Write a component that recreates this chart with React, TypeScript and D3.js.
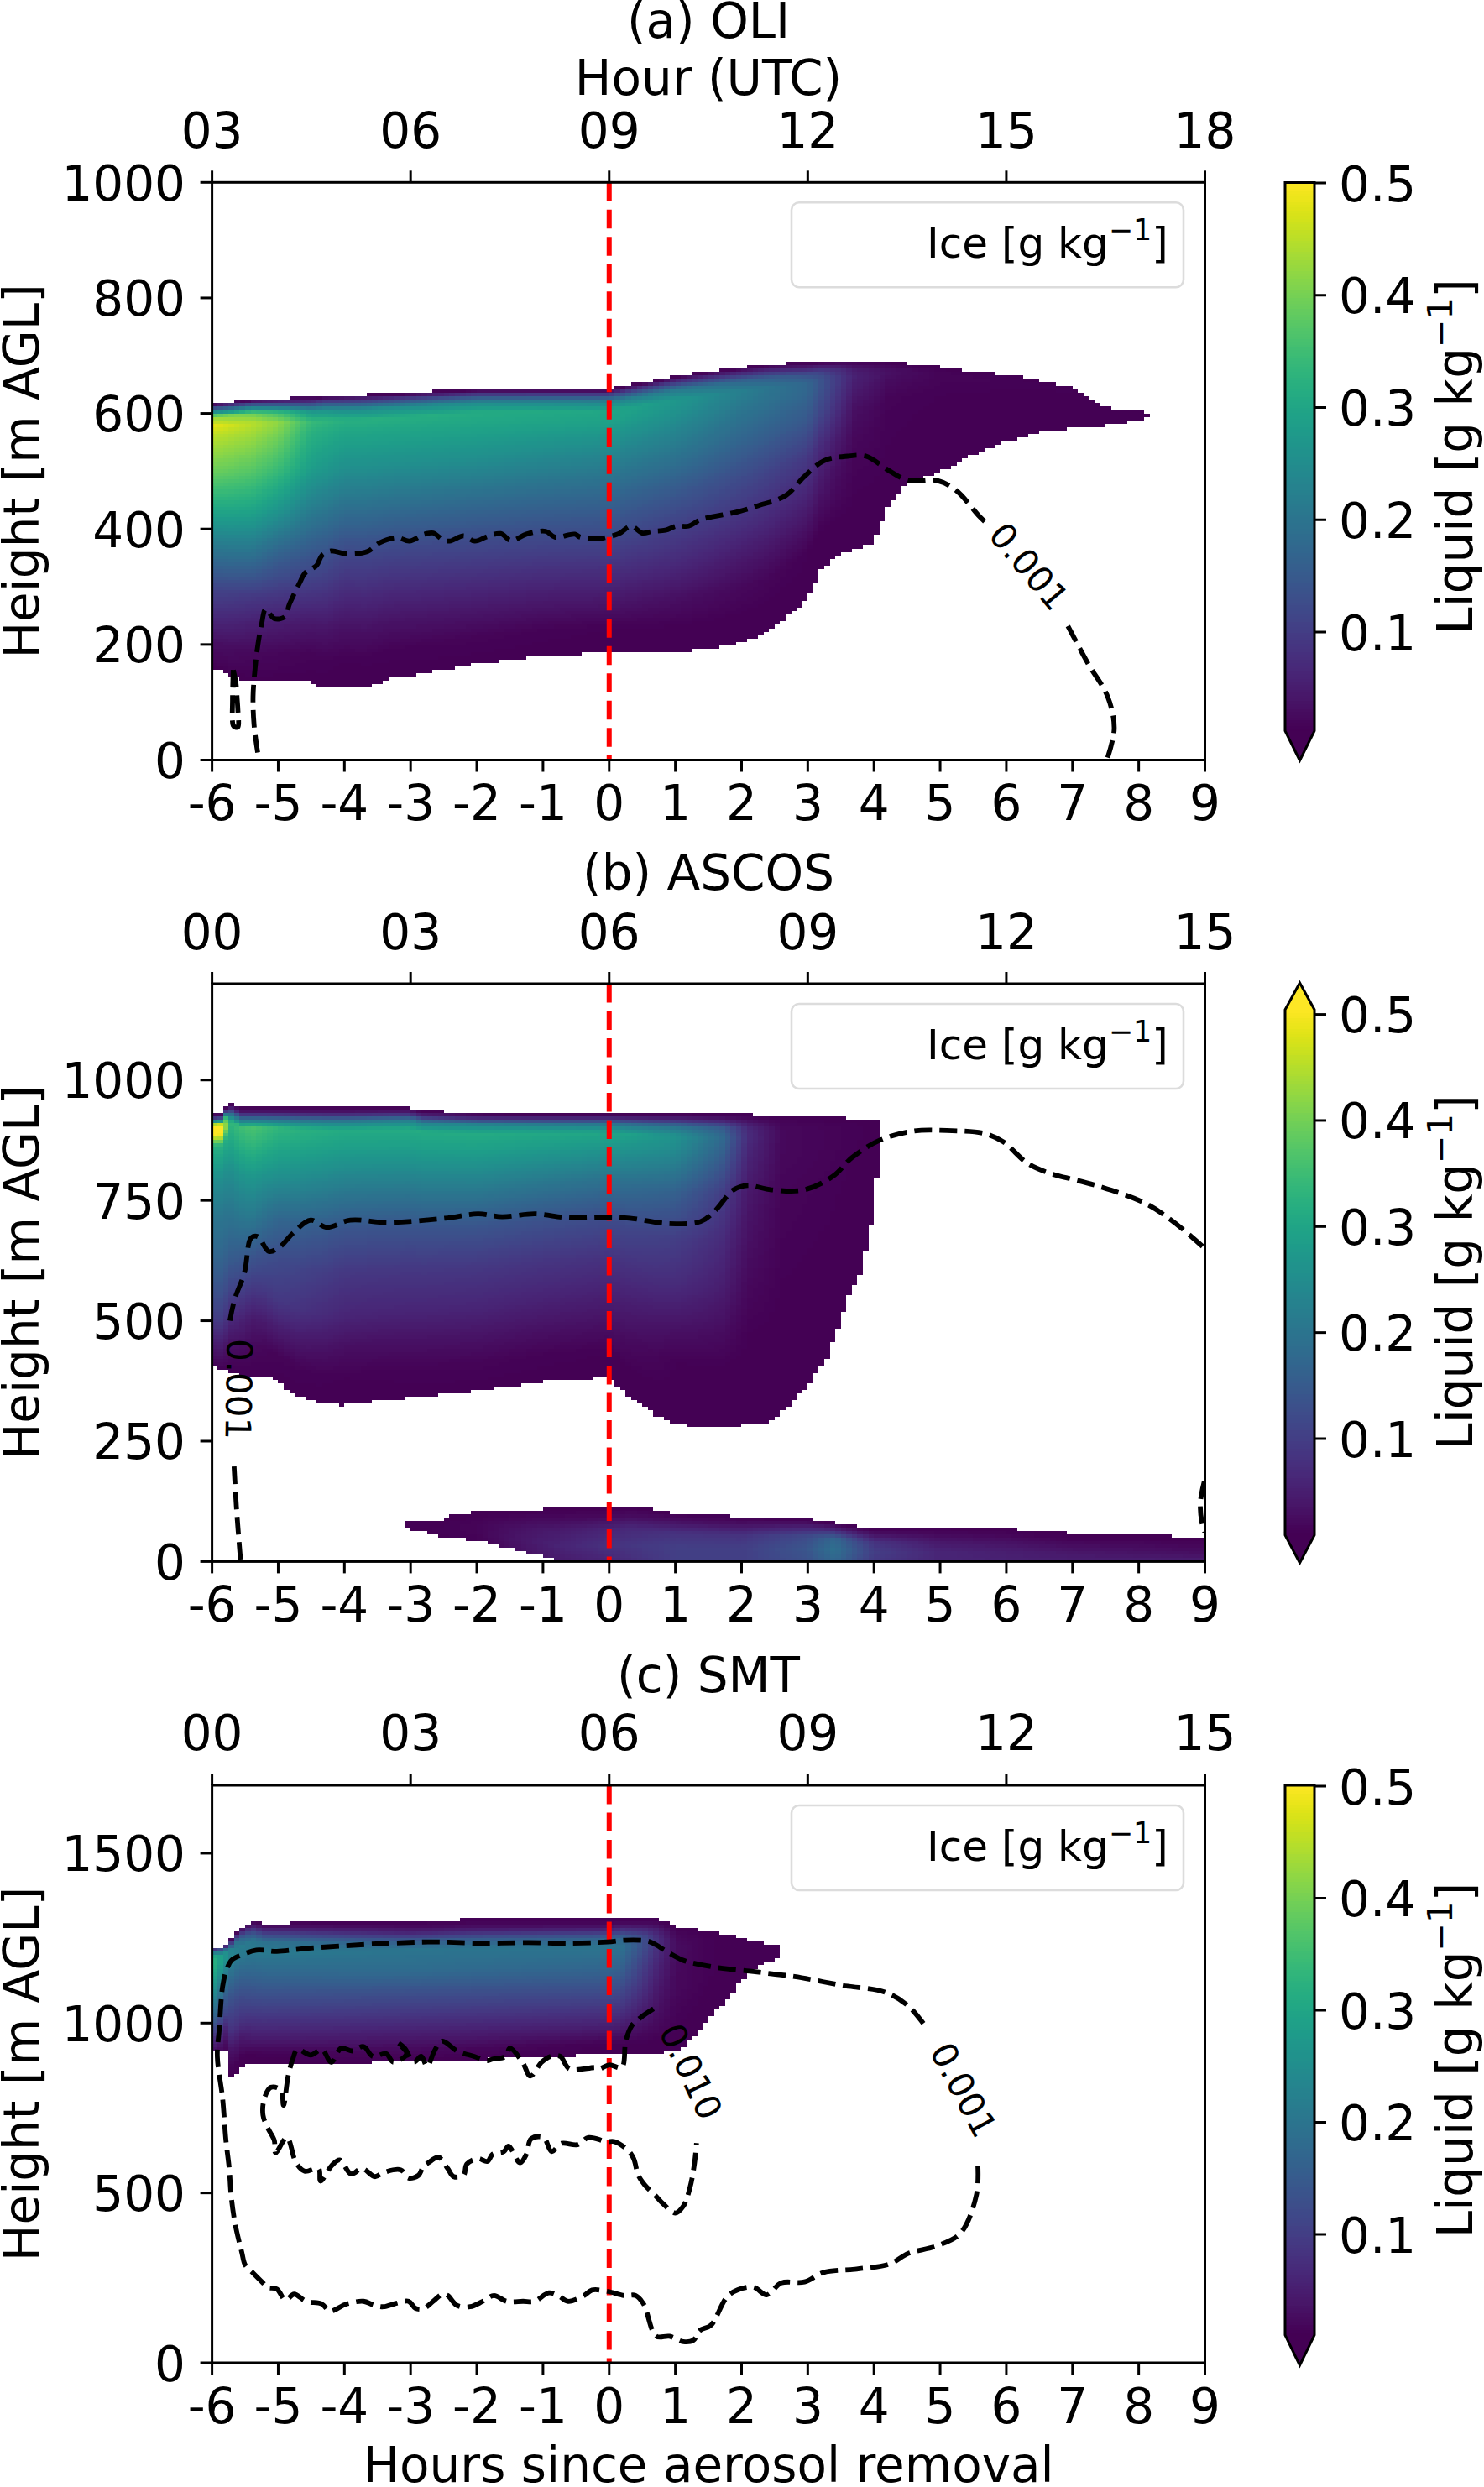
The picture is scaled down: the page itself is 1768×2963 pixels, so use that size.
import React from "react";
import * as d3 from "d3";

const hoursSinceRemoval = d3.range(-6, 10);
const zLevelsOli = [0, 0.1, 0.2, 0.3, 0.45, 0.6, 0.75, 0.88, 0.92, 0.955, 0.98, 1];
const zLevelsAscos = [0, 0.1, 0.2, 0.3, 0.45, 0.6, 0.75, 0.88, 0.93, 0.96, 0.985, 1];

const oliBoundaryTimes = [-6, -5.7, -5.4, -4.5, -4.3, -3.7, -3.3, -3, -2, -1, 0, 1, 1.5, 2, 2.4, 2.7, 3, 3.2, 3.5, 4, 4.2, 4.5, 5, 5.5, 6, 6.5, 7, 7.3, 7.5, 8, 8.15];
const oliTop = [615, 618, 622, 625, 628, 630, 632, 634, 640, 640, 640, 662, 670, 677, 682, 684, 685, 688, 690, 690, 688, 684, 678, 668, 665, 654, 642, 620, 607, 602, 595];
const oliBase = [160, 146, 136, 136, 124, 124, 141, 146, 166, 180, 185, 186, 192, 203, 222, 250, 277, 328, 358, 375, 435, 477, 500, 528, 551, 567, 574, 577, 579, 588, 593];
const oliValueTimes = [-6, -5.4, -5, -4.5, -4, -2, 0, 1, 2, 3, 3.4, 3.7, 4.2, 5, 8.2];
const oliLiquid = [
  [0.01, 0.03, 0.07, 0.11, 0.2, 0.3, 0.39, 0.45, 0.48, 0.42, 0.18, 0.02],
  [0.01, 0.02, 0.05, 0.09, 0.19, 0.29, 0.37, 0.43, 0.45, 0.39, 0.18, 0.02],
  [0.01, 0.018, 0.045, 0.085, 0.16, 0.26, 0.34, 0.4, 0.42, 0.35, 0.16, 0.02],
  [0.01, 0.015, 0.04, 0.08, 0.14, 0.21, 0.28, 0.32, 0.34, 0.27, 0.13, 0.02],
  [0.01, 0.012, 0.03, 0.06, 0.11, 0.18, 0.25, 0.3, 0.32, 0.25, 0.12, 0.015],
  [0.01, 0.015, 0.04, 0.07, 0.12, 0.18, 0.25, 0.3, 0.31, 0.24, 0.12, 0.015],
  [0.01, 0.012, 0.04, 0.07, 0.12, 0.17, 0.23, 0.29, 0.3, 0.23, 0.12, 0.015],
  [0.01, 0.012, 0.03, 0.06, 0.1, 0.15, 0.21, 0.26, 0.27, 0.21, 0.1, 0.015],
  [0.01, 0.011, 0.02, 0.04, 0.08, 0.12, 0.17, 0.21, 0.22, 0.17, 0.08, 0.015],
  [0.01, 0.011, 0.012, 0.03, 0.06, 0.09, 0.14, 0.17, 0.17, 0.13, 0.06, 0.015],
  [0.01, 0.01, 0.012, 0.02, 0.03, 0.05, 0.08, 0.1, 0.1, 0.08, 0.04, 0.012],
  [0.01, 0.01, 0.011, 0.012, 0.015, 0.02, 0.03, 0.05, 0.055, 0.045, 0.025, 0.012],
  [0.01, 0.01, 0.01, 0.011, 0.012, 0.013, 0.015, 0.025, 0.03, 0.028, 0.018, 0.012],
  [0.01, 0.01, 0.01, 0.01, 0.011, 0.011, 0.012, 0.014, 0.015, 0.015, 0.013, 0.011],
  [0.01, 0.01, 0.01, 0.01, 0.01, 0.01, 0.01, 0.01, 0.01, 0.01, 0.01, 0.01],
];

const ascosBoundaryTimes = [-6, -5.85, -5.75, -5.55, -5.2, -5, -4.7, -4.3, -4, -3.5, -3, -2.8, -2, -1, 0, 0.3, 0.7, 1, 1.5, 2, 2.4, 2.7, 3, 3.3, 3.6, 3.8, 3.95, 4.03, 4.08];
const ascosTop = [924, 926, 952, 939, 939, 939, 939, 939, 939, 939, 939, 933, 928, 927, 927, 927, 927, 927, 926, 925, 923, 922, 920, 918, 917, 917, 917, 917, 917];
const ascosBase = [405, 400, 396, 388, 388, 372, 344, 327, 325, 335, 340, 343, 355, 375, 384, 344, 305, 286, 279, 283, 288, 321, 366, 422, 544, 600, 689, 778, 878];
const ascosValueTimes = [-6, -5.83, -5.75, -5.4, -5, -4, -2, 0, 1, 1.7, 2.1, 2.6, 4.1];
const ascosLiquid = [
  [0.012, 0.05, 0.1, 0.13, 0.17, 0.2, 0.25, 0.32, 0.52, 0.52, 0.16, 0.02],
  [0.012, 0.05, 0.1, 0.13, 0.17, 0.2, 0.25, 0.32, 0.52, 0.5, 0.16, 0.02],
  [0.01, 0.03, 0.07, 0.11, 0.16, 0.2, 0.25, 0.31, 0.33, 0.2, 0.05, 0.015],
  [0.01, 0.02, 0.04, 0.08, 0.14, 0.21, 0.27, 0.34, 0.36, 0.2, 0.05, 0.015],
  [0.01, 0.015, 0.05, 0.09, 0.12, 0.17, 0.25, 0.31, 0.33, 0.2, 0.05, 0.015],
  [0.01, 0.012, 0.03, 0.06, 0.09, 0.14, 0.22, 0.29, 0.31, 0.2, 0.05, 0.015],
  [0.01, 0.015, 0.035, 0.06, 0.09, 0.14, 0.22, 0.29, 0.31, 0.24, 0.07, 0.015],
  [0.01, 0.012, 0.03, 0.05, 0.08, 0.12, 0.19, 0.27, 0.3, 0.22, 0.07, 0.015],
  [0.01, 0.01, 0.012, 0.03, 0.07, 0.1, 0.16, 0.24, 0.26, 0.2, 0.06, 0.015],
  [0.01, 0.01, 0.012, 0.025, 0.05, 0.07, 0.1, 0.16, 0.18, 0.15, 0.05, 0.012],
  [0.01, 0.01, 0.01, 0.012, 0.02, 0.03, 0.04, 0.06, 0.07, 0.065, 0.03, 0.012],
  [0.01, 0.01, 0.01, 0.01, 0.012, 0.014, 0.016, 0.02, 0.02, 0.02, 0.015, 0.011],
  [0.01, 0.01, 0.01, 0.01, 0.01, 0.01, 0.01, 0.01, 0.01, 0.01, 0.01, 0.01],
];

const ascosLowBoundaryTimes = [-3.05, -2.5, -2.4, -2, -1.2, -1, -0.8, 0, 0.3, 1, 2, 3, 4, 5, 6, 6.5, 7, 8, 8.5, 9];
const ascosLowTop = [79, 82, 94, 99, 104, 105, 106, 110, 112, 97, 90, 85, 66, 66, 65, 60, 55, 55, 49, 49];
const ascosLowBase = [68, 50, 48, 43, 16, 10, 0, 0, 0, 0, 0, 0, 0, 0, 0, 0, 0, 0, 0, 0];
const zLevelsLow = [0, 0.3, 0.6, 0.85, 1];
const ascosLowValueTimes = [-3.05, -2, -1, 0, 1, 2, 3, 3.4, 4, 5, 7, 9];
const ascosLowLiquid = [
  [0.01, 0.01, 0.01, 0.01, 0.01],
  [0.012, 0.015, 0.015, 0.012, 0.01],
  [0.04, 0.05, 0.04, 0.02, 0.01],
  [0.06, 0.08, 0.06, 0.02, 0.01],
  [0.1, 0.1, 0.08, 0.03, 0.012],
  [0.1, 0.1, 0.08, 0.03, 0.012],
  [0.13, 0.14, 0.12, 0.05, 0.012],
  [0.17, 0.19, 0.17, 0.06, 0.012],
  [0.09, 0.1, 0.08, 0.03, 0.012],
  [0.06, 0.06, 0.04, 0.02, 0.012],
  [0.05, 0.04, 0.025, 0.012, 0.011],
  [0.05, 0.03, 0.02, 0.012, 0.011],
];

const zLevelsSmt = [0, 0.08, 0.2, 0.35, 0.5, 0.65, 0.8, 0.87, 0.93, 0.97, 1];
const smtBoundaryTimes = [-6, -5.81, -5.73, -5.72, -5.64, -5.6, -5.55, -5.5, -5.38, -5.21, -3.77, -2.07, 0.7, 0.87, 1.04, 1.1, 1.44, 1.55, 1.78, 1.95, 2.12, 2.29, 2.52];
const smtTop = [1211, 1223, 1240, 1241, 1262, 1270, 1277, 1285, 1297, 1289, 1293, 1301, 1301, 1293, 1277, 1276, 1268, 1264, 1255, 1248, 1240, 1232, 1223];
const smtBase = [918, 918, 918, 840, 840, 862, 870, 877, 877, 878, 884, 893, 914, 915, 918, 926, 992, 1025, 1066, 1116, 1149, 1174, 1186];
const smtValueTimes = [-6, -5.7, -5.4, -3, 0, 0.2, 0.5, 0.75, 1, 1.5, 2.55];
const smtLiquid = [
  [0.03, 0.06, 0.12, 0.18, 0.23, 0.28, 0.32, 0.33, 0.33, 0.25, 0.1],
  [0.01, 0.012, 0.03, 0.08, 0.11, 0.15, 0.2, 0.23, 0.22, 0.12, 0.02],
  [0.01, 0.012, 0.05, 0.09, 0.13, 0.17, 0.21, 0.2, 0.12, 0.05, 0.015],
  [0.01, 0.02, 0.05, 0.09, 0.13, 0.18, 0.2, 0.14, 0.05, 0.02, 0.012],
  [0.01, 0.012, 0.05, 0.09, 0.13, 0.17, 0.2, 0.16, 0.06, 0.02, 0.012],
  [0.01, 0.012, 0.045, 0.085, 0.12, 0.16, 0.19, 0.17, 0.08, 0.03, 0.012],
  [0.01, 0.012, 0.03, 0.055, 0.08, 0.1, 0.13, 0.13, 0.07, 0.03, 0.012],
  [0.01, 0.011, 0.02, 0.03, 0.04, 0.055, 0.07, 0.07, 0.05, 0.025, 0.012],
  [0.01, 0.01, 0.012, 0.015, 0.02, 0.02, 0.025, 0.025, 0.02, 0.015, 0.011],
  [0.01, 0.01, 0.01, 0.011, 0.012, 0.012, 0.012, 0.012, 0.012, 0.011, 0.01],
  [0.01, 0.01, 0.01, 0.01, 0.01, 0.01, 0.01, 0.01, 0.01, 0.01, 0.01],
];

type Pt = [number, number];
const oliIce001A: Pt[] = [[-5.31, 13], [-5.365, 61], [-5.38, 110], [-5.35, 158], [-5.31, 197], [-5.25, 236], [-5.19, 261], [-5.06, 245], [-4.9, 248], [-4.83, 270], [-4.67, 308], [-4.6, 323], [-4.42, 337], [-4.34, 354], [-4.2, 362], [-3.97, 357], [-3.65, 361], [-3.47, 376], [-3.2, 385], [-3.02, 379], [-2.79, 391], [-2.66, 393], [-2.52, 382], [-2.41, 379], [-2.2, 388], [-2.03, 379], [-1.84, 387], [-1.64, 392], [-1.48, 380], [-1.25, 391], [-0.96, 396], [-0.82, 386], [-0.52, 391], [-0.44, 386], [-0.16, 383], [-0.03, 386], [0.15, 392], [0.33, 405], [0.5, 393], [0.66, 396], [0.85, 398], [1.02, 405], [1.2, 405], [1.38, 416], [1.95, 430], [2.24, 440], [2.67, 458], [2.95, 491], [3.24, 518], [3.6, 526], [3.88, 526], [4.24, 500], [4.52, 484], [4.95, 484], [5.24, 467], [5.6, 421], [5.75, 405]];
const oliIce001B: Pt[] = [[6.93, 232], [7.24, 166], [7.53, 110], [7.63, 55], [7.53, 4]];
const oliIce001C: Pt[] = [[-5.68, 156], [-5.69, 105], [-5.68, 60], [-5.65, 57], [-5.61, 57], [-5.61, 88], [-5.62, 105], [-5.64, 134], [-5.68, 156]];

const ascosIce001A: Pt[] = [[-5.57, 4], [-5.63, 110], [-5.67, 205]];
const ascosIce001B: Pt[] = [[-5.73, 500], [-5.66, 544], [-5.51, 600], [-5.41, 672], [-5.31, 675], [-5.14, 644], [-4.98, 653], [-4.77, 683], [-4.51, 709], [-4.27, 694], [-3.91, 709], [-3.34, 704], [-2.48, 713], [-1.98, 722], [-1.62, 716], [-1.12, 722], [-0.62, 714], [-0.04, 715], [0.31, 713], [0.88, 702], [1.38, 706], [1.59, 727], [1.88, 772], [2.09, 781], [2.45, 772], [2.95, 772], [3.38, 800], [3.67, 839], [4.09, 875], [4.6, 894], [5.1, 895], [5.67, 889], [5.95, 872], [6.31, 828], [6.6, 809], [7.38, 780], [8.1, 744], [8.53, 705], [9, 650]];
const ascosIce001C: Pt[] = [[8.99, 166], [8.93, 121], [8.96, 77], [9, 60]];

const smtIce001: Pt[] = [[5.57, 580], [5.55, 496], [5.31, 382], [4.95, 344], [4.52, 322], [4.24, 291], [3.74, 276], [3.24, 266], [2.95, 238], [2.6, 235], [2.38, 200], [2.17, 223], [1.81, 200], [1.54, 111], [1.37, 95], [1.27, 66], [1.12, 62], [0.91, 78], [0.71, 78], [0.52, 173], [0.4, 198], [0.23, 198], [-0.02, 210], [-0.26, 214], [-0.38, 198], [-0.62, 181], [-0.77, 198], [-0.91, 206], [-1.13, 181], [-1.3, 181], [-1.55, 181], [-1.74, 198], [-1.91, 181], [-2.1, 165], [-2.3, 169], [-2.44, 198], [-2.52, 202], [-2.66, 181], [-2.81, 159], [-2.93, 161], [-3.03, 181], [-3.22, 175], [-3.41, 165], [-3.56, 170], [-3.71, 181], [-3.97, 173], [-4.22, 152], [-4.34, 173], [-4.58, 181], [-4.76, 202], [-4.89, 185], [-5.02, 217], [-5.16, 222], [-5.23, 235], [-5.4, 268], [-5.5, 288], [-5.55, 325], [-5.65, 408], [-5.71, 490], [-5.74, 572], [-5.79, 655], [-5.84, 778], [-5.92, 902], [-5.89, 984], [-5.84, 1108], [-5.78, 1157], [-5.7, 1186], [-5.53, 1202], [-5.33, 1215], [-5.02, 1211], [-4.62, 1219], [-4.05, 1227], [-3.32, 1235], [-2.64, 1239], [-1.96, 1235], [-1.22, 1237], [-0.6, 1235], [-0.03, 1239], [0.25, 1244], [0.59, 1241], [0.7, 1231], [0.9, 1207], [1.1, 1186], [1.33, 1174], [1.72, 1161], [2.12, 1153], [2.46, 1145], [2.8, 1137], [3.52, 1111], [4.17, 1091], [4.52, 1050], [4.81, 982]];
const smtIce010: Pt[] = [[0.67, 1042], [0.48, 1017], [0.34, 992], [0.25, 947], [0.19, 869], [0, 877], [-0.15, 865], [-0.2, 869], [-0.6, 865], [-0.74, 902], [-0.88, 902], [-1.02, 885], [-1.19, 844], [-1.31, 885], [-1.5, 926], [-1.56, 902], [-1.76, 894], [-1.85, 889], [-2.04, 902], [-2.19, 910], [-2.3, 918], [-2.53, 947], [-2.64, 918], [-2.75, 873], [-2.84, 902], [-2.95, 885], [-3.09, 926], [-3.2, 943], [-3.06, 910], [-3.26, 885], [-3.37, 910], [-3.57, 902], [-3.71, 931], [-3.88, 918], [-4.05, 926], [-4.2, 885], [-4.34, 922], [-4.51, 906], [-4.71, 922], [-4.78, 894], [-4.85, 844], [-4.92, 758], [-4.96, 803], [-5.11, 811], [-5.21, 778], [-5.23, 729], [-5.16, 692], [-5.06, 655], [-5.04, 618], [-4.87, 663], [-4.73, 589], [-4.6, 564], [-4.39, 572], [-4.36, 535], [-4.19, 581], [-4.07, 597], [-3.9, 556], [-3.73, 572], [-3.54, 548], [-3.41, 560], [-3.15, 568], [-3.03, 544], [-2.88, 552], [-2.81, 577], [-2.73, 589], [-2.58, 605], [-2.44, 572], [-2.35, 548], [-2.2, 552], [-2.15, 585], [-1.98, 601], [-1.84, 593], [-1.76, 614], [-1.59, 622], [-1.52, 638], [-1.35, 589], [-1.25, 614], [-1.18, 659], [-0.99, 663], [-0.87, 622], [-0.72, 646], [-0.48, 642], [-0.31, 663], [-0.04, 651], [0.08, 651], [0.28, 626], [0.37, 601], [0.44, 552], [0.54, 523], [0.69, 494], [0.81, 469], [1, 441], [1.12, 461], [1.22, 515], [1.29, 589], [1.32, 647]];

const topTicksOli = ["03", "06", "09", "12", "15", "18"];
const topTicksOther = ["00", "03", "06", "09", "12", "15"];
const colorbarTicks = [0.1, 0.2, 0.3, 0.4, 0.5];

const vmin = 0.01;
const vmax = 0.5;
const color = d3.scaleSequential(d3.interpolateViridis).domain([vmin, vmax]).clamp(true);

const FONT = "'DejaVu Sans'";
const FS = 58;
const AX_L = 252.6;
const AX_R = 1435.5;
const CB_L = 1531;
const CB_R = 1566;
const x = d3.scaleLinear().domain([-6, 9]).range([AX_L, AX_R]);

type Cloud = { bt: number[]; top: number[]; base: number[]; vt: number[]; z: number[]; q: number[][] };
type Contour = { pts: Pt[] };
type Label = { t: number; h: number; rot: number; text: string };
type Panel = {
  title: string;
  titleY: number;
  topLabels: string[];
  topLabelY: number;
  yMax: number;
  axTop: number;
  axBot: number;
  yTicks: number[];
  cellH: number;
  clouds: Cloud[];
  contours: Contour[];
  labels: Label[];
  bottomLabelY: number;
  cbTop: number;
  cbBot: number;
  cbTickTop: number;
  cbTickBot: number;
  extendTop: boolean;
  cbTipTop: number;
  cbTipBot: number;
};

const panels: Panel[] = [
  {
    title: "(a) OLI", titleY: 45, topLabels: topTicksOli, topLabelY: 176, yMax: 1000, axTop: 217.3, axBot: 905.5,
    yTicks: [0, 200, 400, 600, 800, 1000], cellH: 6,
    clouds: [{ bt: oliBoundaryTimes, top: oliTop, base: oliBase, vt: oliValueTimes, z: zLevelsOli, q: oliLiquid }],
    contours: [{ pts: oliIce001A }, { pts: oliIce001B }, { pts: oliIce001C }],
    labels: [{ t: 6.34, h: 335, rot: 50, text: "0.001" }],
    bottomLabelY: 977, cbTop: 217.5, cbBot: 870.6, cbTickTop: 218, cbTickBot: 753, extendTop: false, cbTipTop: 217.5, cbTipBot: 906,
  },
  {
    title: "(b) ASCOS", titleY: 1060, topLabels: topTicksOther, topLabelY: 1131, yMax: 1200, axTop: 1172, axBot: 1860.4,
    yTicks: [0, 250, 500, 750, 1000], cellH: 7,
    clouds: [
      { bt: ascosBoundaryTimes, top: ascosTop, base: ascosBase, vt: ascosValueTimes, z: zLevelsAscos, q: ascosLiquid },
      { bt: ascosLowBoundaryTimes, top: ascosLowTop, base: ascosLowBase, vt: ascosLowValueTimes, z: zLevelsLow, q: ascosLowLiquid },
    ],
    contours: [{ pts: ascosIce001A }, { pts: ascosIce001B }, { pts: ascosIce001C }],
    labels: [{ t: -5.6, h: 358, rot: 91, text: "0.001" }],
    bottomLabelY: 1932, cbTop: 1203, cbBot: 1829, cbTickTop: 1208.6, cbTickBot: 1714, extendTop: true, cbTipTop: 1171, cbTipBot: 1862,
  },
  {
    title: "(c) SMT", titleY: 2016, topLabels: topTicksOther, topLabelY: 2085, yMax: 1700, axTop: 2127, axBot: 2815,
    yTicks: [0, 500, 1000, 1500], cellH: 10,
    clouds: [{ bt: smtBoundaryTimes, top: smtTop, base: smtBase, vt: smtValueTimes, z: zLevelsSmt, q: smtLiquid }],
    contours: [{ pts: smtIce001 }, { pts: smtIce010 }],
    labels: [
      { t: 1.23, h: 857, rot: 65, text: "0.010" },
      { t: 5.35, h: 803, rot: 62, text: "0.001" },
    ],
    bottomLabelY: 2887, cbTop: 2127, cbBot: 2782, cbTickTop: 2128, cbTickBot: 2662, extendTop: false, cbTipTop: 2127, cbTipBot: 2818,
  },
];

function cloudCells(c: Cloud, y: d3.ScaleLinear<number, number>, dh: number, key: string) {
  const step = 1 / 12;
  const topAt = d3.scaleLinear().domain(c.bt).range(c.top);
  const baseAt = d3.scaleLinear().domain(c.bt).range(c.base);
  const levelAt = c.z.map((_, r) => d3.scaleLinear().domain(c.vt).range(c.q.map((col) => col[r])).clamp(true));
  const t0 = c.bt[0];
  const t1 = c.bt[c.bt.length - 1];
  const out: React.ReactElement[] = [];
  const columns = d3.range(Math.floor((t0 + 6) / step), Math.ceil((t1 + 6) / step)).map((i) => -6 + i * step);
  for (const t of columns) {
    const tc = Math.max(t0, Math.min(t1, t + step / 2));
    const top = topAt(tc);
    const base = baseAt(tc);
    if (top <= base) continue;
    const profile = d3.scaleLinear().domain(c.z).range(levelAt.map((f) => f(tc))).clamp(true);
    const xa = x(t);
    const xb = x(Math.min(9, t + step));
    for (let h = Math.floor(base / dh) * dh; h < top; h += dh) {
      const hc = h + dh / 2;
      if (hc < base) continue;
      const v = profile((hc - base) / (top - base));
      const ya = y(h + dh);
      const yb = y(h);
      out.push(<rect key={`${key}-${t.toFixed(3)}-${h}`} x={xa} y={ya} width={xb - xa} height={yb - ya} fill={color(v)} />);
    }
  }
  return out;
}

function IceLegend({ top }: { top: number }) {
  return (
    <g>
      <rect x={943} y={top + 24} width={467} height={101} rx={9} fill="#fff" stroke="#dcdcdc" strokeWidth={2.6} />
      <text x={1104} y={top + 90} fontSize={50} fontFamily={FONT}>
        Ice [g kg
        <tspan dy={-21} fontSize={35}>
          −1
        </tspan>
        <tspan dy={21}>]</tspan>
      </text>
    </g>
  );
}

function PanelView({ p, index }: { p: Panel; index: number }) {
  const y = d3.scaleLinear().domain([0, p.yMax]).range([p.axBot, p.axTop]);
  const line = d3.line<Pt>().x((d) => x(d[0])).y((d) => y(d[1])).curve(d3.curveCatmullRom.alpha(0.5));
  const cb = d3.scaleLinear().domain([0.5, 0.1]).range([p.cbTickTop, p.cbTickBot]);
  const clipId = `clip-${index}`;
  const cbSteps = d3.range(0, 200).map((i) => i / 200);
  const cbH = p.cbBot - p.cbTop;
  const topTickPositions = p.topLabels.map((_, i) => -6 + i * 3);
  const midCb = (p.cbTop + p.cbBot) / 2;
  const midY = (p.axTop + p.axBot) / 2;
  const outline = p.extendTop
    ? `M${CB_L},${p.cbTop} L${(CB_L + CB_R) / 2},${p.cbTipTop} L${CB_R},${p.cbTop} L${CB_R},${p.cbBot} L${(CB_L + CB_R) / 2},${p.cbTipBot} L${CB_L},${p.cbBot} Z`
    : `M${CB_L},${p.cbTop} L${CB_R},${p.cbTop} L${CB_R},${p.cbBot} L${(CB_L + CB_R) / 2},${p.cbTipBot} L${CB_L},${p.cbBot} Z`;
  return (
    <g>
      <defs>
        <clipPath id={clipId}>
          <rect x={AX_L} y={p.axTop} width={AX_R - AX_L} height={p.axBot - p.axTop} />
        </clipPath>
      </defs>
      <g clipPath={`url(#${clipId})`} shapeRendering="crispEdges">
        {p.clouds.map((c, i) => cloudCells(c, y, p.cellH, `${index}-${i}`))}
      </g>
      <IceLegend top={p.axTop} />
      <line x1={x(0)} x2={x(0)} y1={p.axTop} y2={p.axBot} stroke="#ff0000" strokeWidth={6} strokeDasharray="22.5,10" />
      <g clipPath={`url(#${clipId})`}>
        {p.contours.map((c, i) => (
          <path key={i} d={line(c.pts) ?? ""} fill="none" stroke="#000" strokeWidth={5.8} strokeDasharray="21,9" />
        ))}
      </g>
      {p.labels.map((l, i) => (
        <text key={i} transform={`translate(${x(l.t)},${y(l.h)}) rotate(${l.rot})`} textAnchor="middle" dominantBaseline="central" fontSize={42} fontFamily={FONT}>
          {l.text}
        </text>
      ))}
      <rect x={AX_L} y={p.axTop} width={AX_R - AX_L} height={p.axBot - p.axTop} fill="none" stroke="#000" strokeWidth={3} />
      {hoursSinceRemoval.map((t) => (
        <g key={t}>
          <line x1={x(t)} x2={x(t)} y1={p.axBot} y2={p.axBot + 14} stroke="#000" strokeWidth={3} />
          <text x={x(t)} y={p.bottomLabelY} textAnchor="middle" fontSize={FS} fontFamily={FONT}>
            {String(t)}
          </text>
        </g>
      ))}
      {p.topLabels.map((lab, i) => (
        <g key={lab}>
          <line x1={x(topTickPositions[i])} x2={x(topTickPositions[i])} y1={p.axTop} y2={p.axTop - 14} stroke="#000" strokeWidth={3} />
          <text x={x(topTickPositions[i])} y={p.topLabelY} textAnchor="middle" fontSize={FS} fontFamily={FONT}>
            {lab}
          </text>
        </g>
      ))}
      {p.yTicks.map((v) => (
        <g key={v}>
          <line x1={AX_L} x2={AX_L - 14} y1={y(v)} y2={y(v)} stroke="#000" strokeWidth={3} />
          <text x={221} y={y(v) + 21.5} textAnchor="end" fontSize={FS} fontFamily={FONT}>
            {String(v)}
          </text>
        </g>
      ))}
      <text transform={`translate(46,${midY}) rotate(-90)`} textAnchor="middle" fontSize={FS} fontFamily={FONT}>
        Height [m AGL]
      </text>
      <text x={(AX_L + AX_R) / 2} y={p.titleY} textAnchor="middle" fontSize={FS} fontFamily={FONT}>
        {p.title}
      </text>
      <g shapeRendering="crispEdges">
        {cbSteps.map((f) => (
          <rect key={f} x={CB_L} y={p.cbBot - (f + 1 / 200) * cbH} width={CB_R - CB_L} height={cbH / 200 + 0.6} fill={color(vmin + f * (vmax - vmin))} />
        ))}
      </g>
      <path d={`M${CB_L},${p.cbBot} L${(CB_L + CB_R) / 2},${p.cbTipBot} L${CB_R},${p.cbBot} Z`} fill={color(vmin)} />
      {p.extendTop && <path d={`M${CB_L},${p.cbTop} L${(CB_L + CB_R) / 2},${p.cbTipTop} L${CB_R},${p.cbTop} Z`} fill={color(vmax)} />}
      <path d={outline} fill="none" stroke="#000" strokeWidth={3} />
      {colorbarTicks.map((v) => (
        <g key={v}>
          <line x1={CB_R} x2={CB_R + 14} y1={cb(v)} y2={cb(v)} stroke="#000" strokeWidth={3} />
          <text x={1595} y={cb(v) + 21.5} fontSize={FS} fontFamily={FONT}>
            {v.toFixed(1)}
          </text>
        </g>
      ))}
      <text transform={`translate(1754,${midCb}) rotate(-90)`} textAnchor="middle" fontSize={FS} fontFamily={FONT}>
        Liquid [g kg
        <tspan dy={-24} fontSize={40}>
          −1
        </tspan>
        <tspan dy={24}>]</tspan>
      </text>
    </g>
  );
}

export default function App() {
  return (
    <svg width={1768} height={2963} viewBox="0 0 1768 2963" style={{ position: "absolute", left: 0, top: 0, background: "#fff" }}>
      <rect width={1768} height={2963} fill="#fff" />
      {panels.map((p, i) => (
        <PanelView key={p.title} p={p} index={i} />
      ))}
      <text x={(AX_L + AX_R) / 2} y={113} textAnchor="middle" fontSize={FS} fontFamily={FONT}>
        Hour (UTC)
      </text>
      <text x={(AX_L + AX_R) / 2} y={2957} textAnchor="middle" fontSize={FS} fontFamily={FONT}>
        Hours since aerosol removal
      </text>
    </svg>
  );
}
